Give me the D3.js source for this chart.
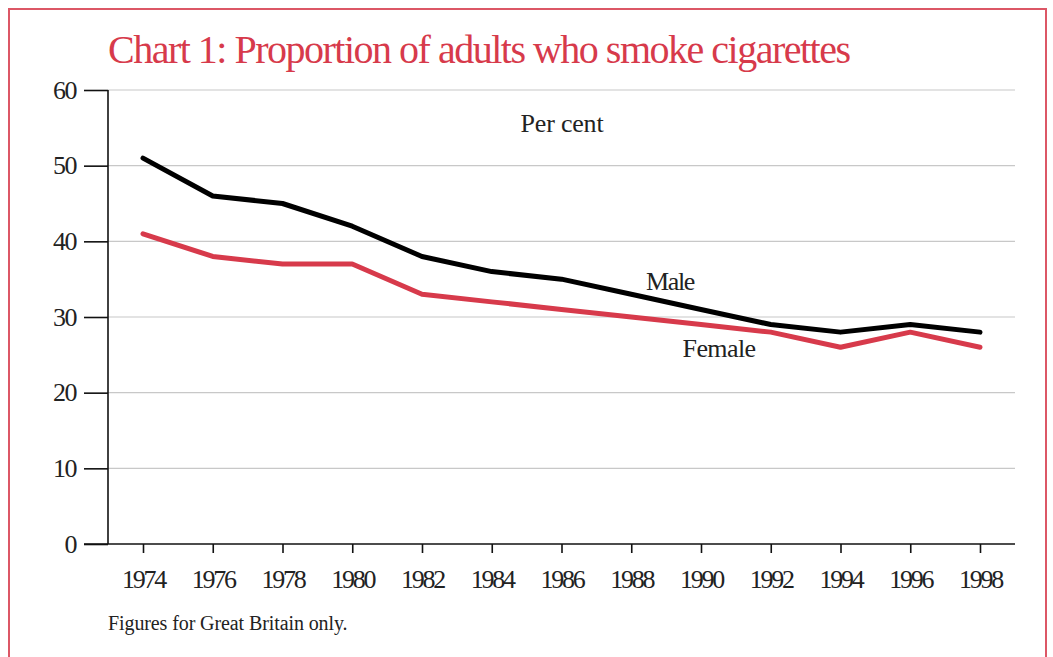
<!DOCTYPE html>
<html><head><meta charset="utf-8">
<script src="https://cdn.jsdelivr.net/npm/d3@7"></script>
<style>
html,body{margin:0;padding:0;background:#fff;overflow:hidden}
text{font-family:"Liberation Serif","DejaVu Serif",serif}
</style></head>
<body>
<script>
const years = [1974,1976,1978,1980,1982,1984,1986,1988,1990,1992,1994,1996,1998];
const male = [51,46,45,42,38,36,35,33,31,29,28,29,28];
const female = [41,38,37,37,33,32,31,30,29,28,26,28,26];
const yTicks = [0,10,20,30,40,50,60];
const title = "Chart 1: Proportion of adults who smoke cigarettes";
const unitLabel = "Per cent";
const seriesNames = ["Male","Female"];
const footnote = "Figures for Great Britain only.";

const W=1053,H=657;
const red="#d73a4b";
const svg=d3.select("body").append("svg").attr("width",W).attr("height",H);

// frame
svg.append("rect").attr("x",9).attr("y",9).attr("width",1037).attr("height",700)
  .attr("fill","none").attr("stroke","#dc5766").attr("stroke-width",2);

svg.append("text").attr("x",108).attr("y",63).attr("fill",red)
  .attr("font-size",40).attr("letter-spacing",-1.5).text(title);

const x=d3.scaleLinear().domain([1974,1998]).range([143,980]);
const y=d3.scaleLinear().domain([0,60]).range([544,90]);

// gridlines
svg.append("g").selectAll("line").data(yTicks.filter(d=>d>0)).join("line")
  .attr("x1",108).attr("x2",1015).attr("y1",d=>y(d)).attr("y2",d=>y(d))
  .attr("stroke","#c8c8c8").attr("stroke-width",1.2);

// y axis
const yAx=svg.append("g").attr("transform","translate(108,0)")
  .call(d3.axisLeft(y).tickValues(yTicks).tickSize(24).tickPadding(8));
yAx.select(".domain").attr("stroke","#111").attr("stroke-width",1.6).attr("d","M0,"+y(60)+"V"+y(0));
yAx.selectAll(".tick line").attr("stroke","#111").attr("stroke-width",1.6);
yAx.selectAll(".tick text").attr("font-size",26).attr("fill","#222").attr("letter-spacing",-1.5)
  .attr("font-family","Liberation Serif, serif");

// x axis
const xAx=svg.append("g").attr("transform","translate(0,544)")
  .call(d3.axisBottom(x).tickValues(years).tickFormat(d3.format("d")).tickSize(9).tickPadding(17));
xAx.select(".domain").attr("stroke","#111").attr("stroke-width",1.6).attr("d","M84,0H1015");
xAx.selectAll(".tick line").attr("stroke","#111").attr("stroke-width",1.6);
xAx.selectAll(".tick text").attr("font-size",26).attr("fill","#222").attr("letter-spacing",-2.3)
  .attr("font-family","Liberation Serif, serif");

const line=d3.line().x((d,i)=>x(years[i])).y(d=>y(d));
svg.append("path").datum(female).attr("d",line).attr("fill","none")
  .attr("stroke",red).attr("stroke-width",5).attr("stroke-linejoin","round").attr("stroke-linecap","round");
svg.append("path").datum(male).attr("d",line).attr("fill","none")
  .attr("stroke","#000").attr("stroke-width",5).attr("stroke-linejoin","round").attr("stroke-linecap","round");

svg.append("text").attr("x",562).attr("y",132).attr("text-anchor","middle")
  .attr("font-size",26).attr("letter-spacing",-0.2).attr("fill","#222").text(unitLabel);
svg.append("text").attr("x",670).attr("y",290).attr("text-anchor","middle")
  .attr("font-size",26).attr("letter-spacing",-1.3).attr("fill","#222").text(seriesNames[0]);
svg.append("text").attr("x",719).attr("y",357).attr("text-anchor","middle")
  .attr("font-size",26).attr("letter-spacing",-0.6).attr("fill","#222").text(seriesNames[1]);

svg.append("text").attr("x",108).attr("y",630).attr("font-size",20).attr("letter-spacing",-0.1)
  .attr("fill","#222").text(footnote);
</script>
</body></html>
